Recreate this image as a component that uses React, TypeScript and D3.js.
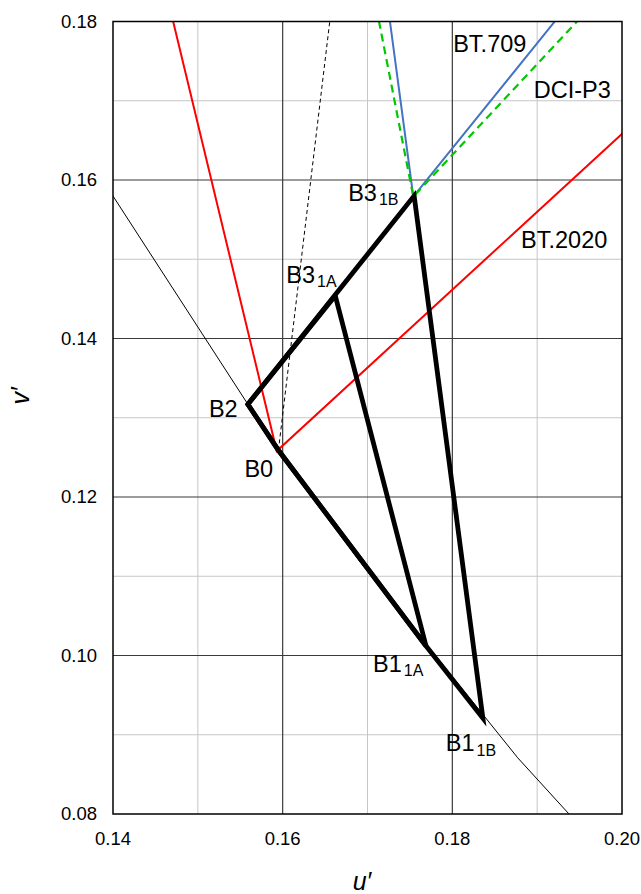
import React from "react";
import * as d3 from "d3";

// ---- data ----
const uDomain = [0.14, 0.2];
const vDomain = [0.08, 0.18];
const uMajorTicks = [0.14, 0.16, 0.18, 0.2];
const uMinorTicks = [0.15, 0.17, 0.19];
const vMajorTicks = [0.08, 0.1, 0.12, 0.14, 0.16, 0.18];
const vMinorTicks = [0.09, 0.11, 0.13, 0.15, 0.17];

// spectral locus (blue end) u', v'
const locusU = [0.13, 0.1559, 0.1595, 0.169, 0.1877, 0.2033];
const locusV = [0.1745, 0.1317, 0.1259, 0.112, 0.0871, 0.0688];

// gamut primaries (u', v')
const gamutNames = ["BT.2020", "BT.709", "DCI-P3"];
const gamutBlueU = [0.1593, 0.1754, 0.1754];
const gamutBlueV = [0.1258, 0.1579, 0.1579];
const gamutGreenU = [0.0557, 0.125, 0.0986];
const gamutGreenV = [0.5857, 0.5625, 0.5777];
const gamutRedU = [0.5566, 0.4507, 0.4964];
const gamutRedV = [0.5165, 0.5229, 0.5255];
const gamutLabelU = [0.1881, 0.1801, 0.1896];
const gamutLabelV = [0.1514, 0.1762, 0.1704];

// white point D65
const whiteU = 0.1978;
const whiteV = 0.4683;

// named points
const pointNames = ["B0", "B2", "B3_1A", "B3_1B", "B1_1A", "B1_1B"];
const pointU = [0.1595, 0.1559, 0.1662, 0.1755, 0.1769, 0.1836];
const pointV = [0.1259, 0.1317, 0.1454, 0.158, 0.1012, 0.0921];

// polygons (by point name)
const polygon1A = ["B2", "B3_1A", "B1_1A", "B0"];
const polygon1B = ["B2", "B3_1B", "B1_1B", "B1_1A", "B0"];

// ---- layout / style ----
const W = 641;
const H = 894;
const M = { left: 113, top: 21.5, right: 19, bottom: 80 };
const FONT = "'Liberation Sans', Arial, sans-serif";
const gamutColors: Record<string, string> = {
  "BT.2020": "#ff0000",
  "BT.709": "#4472c4",
  "DCI-P3": "#00c800",
};
const labelOffsets: Record<string, [number, number]> = {
  B0: [-34, 27],
  B2: [-39, 13],
  B3_1A: [-49, -13],
  B3_1B: [-66, 5],
  B1_1A: [-53, 26],
  B1_1B: [-37, 33],
};

export default function App() {
  const x = d3.scaleLinear().domain(uDomain).range([M.left, W - M.right]);
  const y = d3.scaleLinear().domain(vDomain).range([H - M.bottom, M.top]);
  const line = d3
    .line<[number, number]>()
    .x((d) => x(d[0]))
    .y((d) => y(d[1]));

  const pt = (name: string): [number, number] => {
    const i = pointNames.indexOf(name);
    return [pointU[i], pointV[i]];
  };

  const locus = locusU.map((u, i) => [u, locusV[i]] as [number, number]);
  const x0 = x(uDomain[0]);
  const x1 = x(uDomain[1]);
  const y0 = y(vDomain[0]);
  const y1 = y(vDomain[1]);

  const gamutOrder = ["BT.2020", "BT.709", "DCI-P3"];

  return (
    <svg
      width={W}
      height={H}
      style={{ position: "absolute", left: 0, top: 0, background: "#fff" }}
      fontFamily={FONT}
    >
      <defs>
        <clipPath id="plotclip">
          <rect x={x0} y={y1} width={x1 - x0} height={y0 - y1} />
        </clipPath>
      </defs>
      <rect x={0} y={0} width={W} height={H} fill="#fff" />
      {/* minor grid */}
      {uMinorTicks.map((t) => (
        <line key={"um" + t} x1={x(t)} x2={x(t)} y1={y1} y2={y0} stroke="#c6c6c6" strokeWidth={1} />
      ))}
      {vMinorTicks.map((t) => (
        <line key={"vm" + t} x1={x0} x2={x1} y1={y(t)} y2={y(t)} stroke="#c6c6c6" strokeWidth={1} />
      ))}
      {/* major grid */}
      {uMajorTicks.slice(1, -1).map((t) => (
        <line key={"uM" + t} x1={x(t)} x2={x(t)} y1={y1} y2={y0} stroke="#3a3a3a" strokeWidth={1.2} />
      ))}
      {vMajorTicks.slice(1, -1).map((t) => (
        <line key={"vM" + t} x1={x0} x2={x1} y1={y(t)} y2={y(t)} stroke="#3a3a3a" strokeWidth={1.2} />
      ))}

      <g clipPath="url(#plotclip)">
        {/* spectral locus */}
        <path d={line(locus) || ""} fill="none" stroke="#000" strokeWidth={1} />
        {/* white point line */}
        <path
          d={line([[pointU[0], pointV[0]], [whiteU, whiteV]]) || ""}
          fill="none"
          stroke="#000"
          strokeWidth={1}
          strokeDasharray="4,3"
        />
        {/* gamut lines */}
        {gamutOrder.map((g) => {
          const i = gamutNames.indexOf(g);
          const b: [number, number] = [gamutBlueU[i], gamutBlueV[i]];
          const gr: [number, number] = [gamutGreenU[i], gamutGreenV[i]];
          const r: [number, number] = [gamutRedU[i], gamutRedV[i]];
          return (
            <path
              key={g}
              d={line([gr, b, r]) || ""}
              fill="none"
              stroke={gamutColors[g]}
              strokeWidth={g === "DCI-P3" ? 2.2 : 2}
              strokeDasharray={g === "DCI-P3" ? "8,5" : undefined}
            />
          );
        })}
        {/* thick polygons */}
        {[polygon1A, polygon1B].map((poly, k) => (
          <path
            key={"poly" + k}
            d={(line(poly.map(pt)) || "") + "Z"}
            fill="none"
            stroke="#000"
            strokeWidth={4.8}
            strokeLinejoin="miter"
          />
        ))}
      </g>

      {/* border */}
      <rect x={x0} y={y1} width={x1 - x0} height={y0 - y1} fill="none" stroke="#000" strokeWidth={1.5} />

      {/* tick labels */}
      {uMajorTicks.map((t) => (
        <text key={"ut" + t} x={x(t)} y={845} textAnchor="middle" fontSize={18.5} fill="#000">
          {d3.format(".2f")(t)}
        </text>
      ))}
      {vMajorTicks.map((t) => (
        <text key={"vt" + t} x={97} y={y(t)} dy="0.35em" textAnchor="end" fontSize={18.5} fill="#000">
          {d3.format(".2f")(t)}
        </text>
      ))}
      {/* axis titles */}
      <text x={362} y={890} textAnchor="middle" fontSize={25} fontStyle="italic" fill="#000">
        u′
      </text>
      <text
        transform={`translate(${29},${396}) rotate(-90)`}
        textAnchor="middle"
        fontSize={25}
        fontStyle="italic"
        fill="#000"
      >
        v′
      </text>

      {/* gamut labels */}
      {gamutNames.map((g, i) => (
        <text key={"gl" + g} x={x(gamutLabelU[i])} y={y(gamutLabelV[i])} fontSize={23.5} fill="#000">
          {g}
        </text>
      ))}

      {/* point labels */}
      {pointNames.map((n, i) => {
        const [main, sub] = n.split("_");
        const off = labelOffsets[n];
        return (
          <text key={"pl" + n} x={x(pointU[i]) + off[0]} y={y(pointV[i]) + off[1]} fontSize={23.5} fill="#000">
            {main}
            {sub ? (
              <tspan fontSize={16} dx={2} dy={4.5}>
                {sub}
              </tspan>
            ) : null}
          </text>
        );
      })}
    </svg>
  );
}
